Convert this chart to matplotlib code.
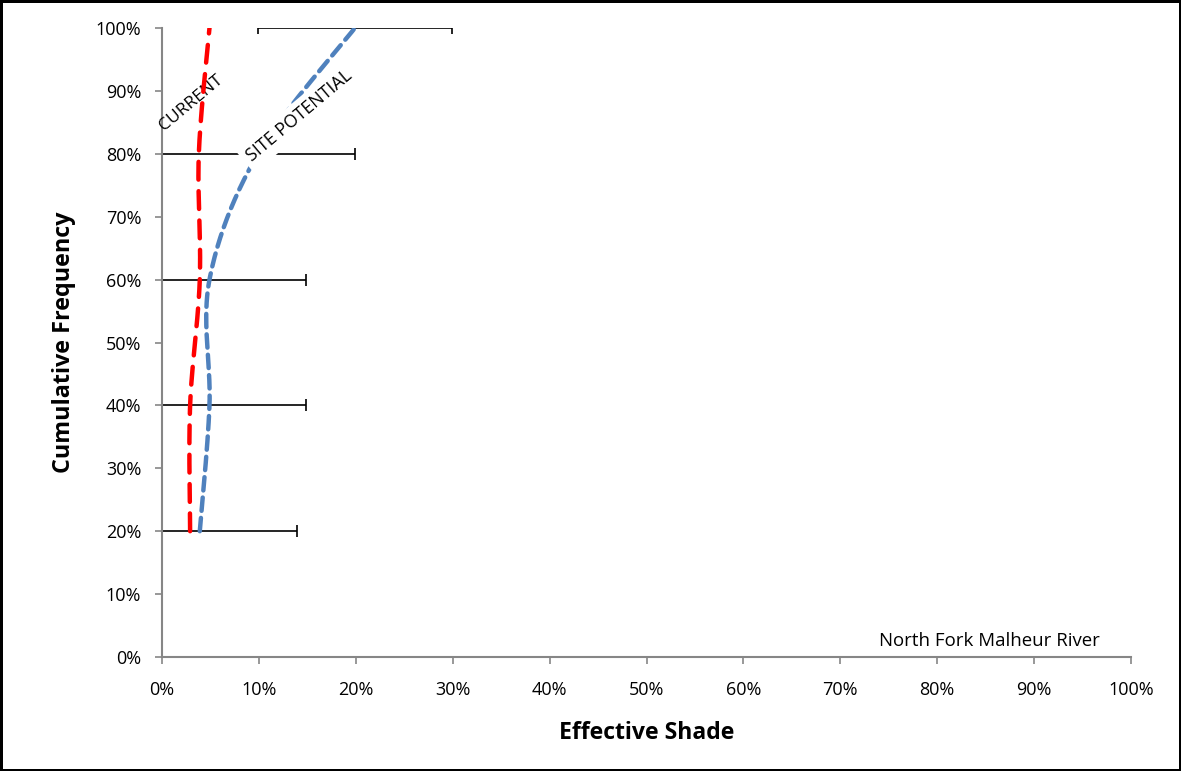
import numpy as np
import matplotlib
matplotlib.use("Agg")
import matplotlib.pyplot as plt
from matplotlib.ticker import PercentFormatter

plt.rcParams['font.family'] = ['Open Sans', 'DejaVu Sans']

# Data (values in % effective shade at each cumulative frequency)
cum_freq = [20, 40, 60, 80, 100]
current = [2.9, 2.9, 3.9, 3.8, 4.9]
site_potential = [3.9, 4.9, 4.9, 9.9, 19.9]
sp_error = [10, 10, 10, 10, 10]
x_ticks = [0, 10, 20, 30, 40, 50, 60, 70, 80, 90, 100]
y_ticks = [0, 10, 20, 30, 40, 50, 60, 70, 80, 90, 100]


def smooth(xs, ys, sx, sy, n=40):
    # Catmull-Rom style smoothing (like spreadsheet "smoothed line"), in scaled space
    P = np.column_stack([np.asarray(xs) * sx, np.asarray(ys) * sy])
    P = np.vstack([P[0], P, P[-1]])
    out = []
    for i in range(1, len(P) - 2):
        p0, p1, p2, p3 = P[i - 1], P[i], P[i + 1], P[i + 2]
        c1 = p1 + (p2 - p0) / 6.0
        c2 = p2 - (p3 - p1) / 6.0
        t = np.linspace(0, 1, n)[:, None]
        seg = ((1 - t) ** 3) * p1 + 3 * ((1 - t) ** 2) * t * c1 + 3 * (1 - t) * t ** 2 * c2 + t ** 3 * p2
        out.append(seg if i == 1 else seg[1:])
    out = np.vstack(out)
    return out[:, 0] / sx, out[:, 1] / sy


fig = plt.figure(figsize=(11.81, 7.71), dpi=100, linewidth=2.5, edgecolor='black')
ax = fig.add_axes([162 / 1181, 1 - 657 / 771, (1131 - 162) / 1181, (657 - 28) / 771])

sx, sy = 969 / 100, 629 / 100

ax.errorbar(site_potential, cum_freq, xerr=sp_error, fmt='none', ecolor='black',
            elinewidth=1.2, capsize=4, capthick=1.2, zorder=2)

bx, by = smooth(site_potential, cum_freq, sx, sy)
ax.plot(bx, by, color='#4F81BD', lw=3.2, dashes=(3, 1.6), solid_capstyle='round',
        dash_capstyle='round', zorder=3)

rx, ry = smooth(current, cum_freq, sx, sy)
ax.plot(rx, ry, color='#FF0000', lw=3.2, dashes=(4, 2.6), dash_capstyle='round', zorder=5)

ax.text(3.0, 88.0, 'CURRENT', rotation=40, ha='center', va='center', fontsize=12.5,
        rotation_mode='anchor', zorder=4)
ax.text(14.2, 86.0, 'SITE POTENTIAL', rotation=40, ha='center', va='center', fontsize=12.8,
        rotation_mode='anchor', zorder=4,
        bbox=dict(facecolor='white', edgecolor='none', pad=4))
ax.text(74, 2.5, 'North Fork Malheur River', ha='left', va='center', fontsize=13.4)

ax.set_xlim(0, 100)
ax.set_ylim(0, 100)
ax.set_xticks(x_ticks)
ax.set_yticks(y_ticks)
ax.xaxis.set_major_formatter(PercentFormatter(decimals=0))
ax.yaxis.set_major_formatter(PercentFormatter(decimals=0))
for s in ['top', 'right']:
    ax.spines[s].set_visible(False)
for s in ['left', 'bottom']:
    ax.spines[s].set_color('#868686')
    ax.spines[s].set_linewidth(1.5)
ax.tick_params(axis='both', direction='out', length=5, color='#868686', width=1.2,
               labelsize=13, colors='black')
ax.tick_params(axis='x', pad=12)
ax.tick_params(axis='y', pad=10)
for lab in ax.get_xticklabels() + ax.get_yticklabels():
    lab.set_color('black')

ax.set_xlabel('Effective Shade', fontsize=16.6, fontweight='bold', labelpad=16)
ax.set_ylabel('Cumulative Frequency', fontsize=16.8, fontweight='bold', labelpad=14)

fig.savefig('out.png', dpi=100, edgecolor=fig.get_edgecolor())
